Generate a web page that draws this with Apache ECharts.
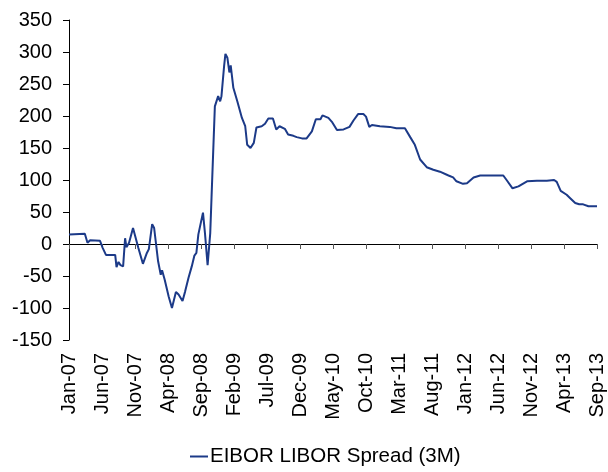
<!DOCTYPE html>
<html>
<head>
<meta charset="utf-8">
<script src="https://cdn.jsdelivr.net/npm/echarts@6/dist/echarts.min.js"></script>
<style>
  html, body { margin: 0; padding: 0; background: #fff; }
  #chart { width: 608px; height: 472px; }
</style>
</head>
<body>
<div id="chart"></div>
<script>
// months since Jan-07 (fractional) and the spread read at that time
const monthIdx = [
  0, 2.4, 2.8, 3.2, 4.7, 5.1, 5.6, 7.0, 7.2, 7.5, 7.8, 8.2, 8.5, 8.7, 9.1, 9.7, 10.0, 10.5,
  11.2, 11.8, 12.1, 12.6, 12.9, 13.5, 13.9, 14.1, 14.5, 15.1, 15.3, 15.6, 15.8, 16.2, 16.6,
  16.9, 17.2, 17.6, 18.1, 18.6, 19.0, 19.3, 19.6, 20.3, 20.6, 21.0, 21.4, 21.6, 22.1, 22.6,
  22.9, 23.1, 23.5, 23.7, 24.0, 24.3, 24.5, 24.9, 25.5, 26.2, 26.7, 27.0, 27.5, 28.0, 28.4,
  29.2, 29.7, 30.2, 30.9, 31.4, 31.9, 32.7, 33.2, 34.0, 34.5, 35.3, 36.0, 36.8, 37.4, 38.1,
  38.4, 39.3, 39.9, 40.6, 41.6, 42.5, 43.1, 43.8, 44.6, 45.0, 45.5, 45.9, 47.1, 48.6, 49.6,
  50.9, 51.7, 52.4, 53.2, 54.2, 55.2, 56.2, 57.5, 58.2, 58.7, 59.7, 60.3, 61.3, 62.3, 63.8,
  65.8, 66.3, 67.2, 68.1, 69.4, 70.9, 72.4, 73.5, 73.9, 74.5, 75.4, 75.9, 76.7, 77.3, 77.9,
  78.7, 80.0
]
const spread = [
  15, 16, 2, 6, 5, -6, -17, -17, -36, -28, -33, -35, 9, -5, 2, 25, 25, -6,
  -31, -14, -8, 31, 25, -27, -48, -41, -56, -82, -83, -100, -98, -75, -79,
  -77, -89, -74, -53, -35, -18, -14, 15, 49, 17, -33, 17, 74, 215, 231,
  223, 231, 278, 297, 291, 268, 279, 244, 223, 197, 184, 155, 150, 158, 182,
  184, 188, 196, 196, 179, 184, 180, 171, 169, 167, 165, 165, 176, 195, 195,
  201, 197, 190, 178, 179, 183, 193, 203, 203, 199, 183, 186, 184, 183, 181,
  181, 167, 155, 132, 120, 116, 113, 107, 104, 98, 94, 95, 104, 107, 107,
  107, 100, 87, 90, 98, 99, 99, 100, 97, 83, 77, 72, 64, 62, 62,
  59, 59
]
const monthNames = ['Jan', 'Feb', 'Mar', 'Apr', 'May', 'Jun', 'Jul', 'Aug', 'Sep', 'Oct', 'Nov', 'Dec']
const seriesName = 'EIBOR LIBOR Spread (3M)'

const FONT = 'Liberation Sans, Arial, sans-serif'

function monthLabel(v) {
  let total = Math.round(v)
  let y = 7 + Math.floor(total / 12)
  return monthNames[total % 12] + '-' + (y < 10 ? '0' + y : y)
}

let chart = echarts.init(document.getElementById('chart'))
let option = {
  animation: false,
  grid: {
    left: 69,
    right: 11,
    top: 20,
    bottom: 132,
  },
  legend: {
    top: 446,
    left: 190,
    padding: 0,
    icon: 'rect',
    itemWidth: 18,
    itemHeight: 2,
    itemGap: 2,
    textStyle: { color: '#000', fontSize: 20.5, fontFamily: FONT, padding: [0, 0, 0, -3] },
    data: [seriesName]
  },
  xAxis: [{
    type: 'value',
    min: 0,
    max: 80,
    interval: 5,
    axisLine: { onZero: true, lineStyle: { color: '#000', width: 1 } },
    axisTick: { show: true, length: 5, lineStyle: { color: '#555' } },
    axisLabel: { show: false },
    splitLine: { show: false }
  }, {
    type: 'value',
    position: 'bottom',
    min: 0,
    max: 80,
    interval: 5,
    axisLine: { show: false, onZero: false },
    axisTick: { show: false },
    axisLabel: {
      rotate: 90,
      margin: 13,
      color: '#000',
      fontSize: 20,
      fontFamily: FONT,
      formatter: monthLabel
    },
    splitLine: { show: false }
  }],
  yAxis: {
    type: 'value',
    min: -150,
    max: 350,
    interval: 50,
    axisLine: { show: true, lineStyle: { color: '#000', width: 1 } },
    axisTick: { show: true, length: 6, lineStyle: { color: '#000' } },
    axisLabel: { color: '#000', fontSize: 20, fontFamily: FONT, margin: 17 },
    splitLine: { show: false }
  },
  series: [{
    name: seriesName,
    type: 'line',
    xAxisIndex: 0,
    showSymbol: false,
    symbol: 'none',
    lineStyle: { color: '#1c3a88', width: 2 },
    itemStyle: { color: '#1c3a88' },
    data: monthIdx.map((m, i) => [m, spread[i]])
  }]
}
chart.setOption(option)
</script>
</body>
</html>
